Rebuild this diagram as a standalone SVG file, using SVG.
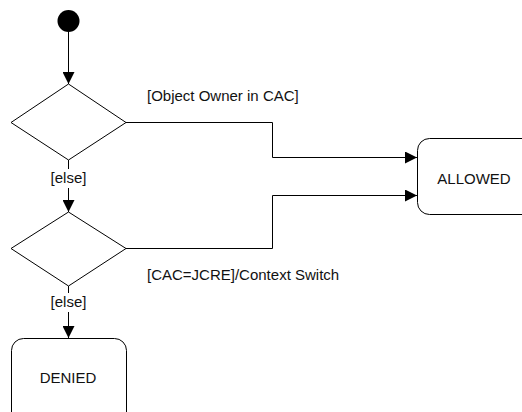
<svg xmlns="http://www.w3.org/2000/svg" width="522" height="412" viewBox="0 0 522 412">
  <style>
    .shape { fill: #ffffff; stroke: #000000; stroke-width: 1; }
    .edge { fill: none; stroke: #000000; stroke-width: 1; }
    .lbl { font-family: "Liberation Sans", Arial, sans-serif; font-size: 15px; fill: #111111; }
    .mid { text-anchor: middle; }
  </style>
  <defs>
    <marker id="arrow" viewBox="0 0 12 12" refX="12" refY="6" markerWidth="12" markerHeight="12" markerUnits="userSpaceOnUse" orient="auto">
      <path d="M0,0 L12,6 L0,12 Z" fill="#000000"/>
    </marker>
  </defs>

  <g id="connectors">
    <path class="edge" d="M68.5,32 L68.5,84" marker-end="url(#arrow)"/>
    <path class="edge" d="M68.5,160 L68.5,169"/>
    <path class="edge" d="M68.5,188 L68.5,212" marker-end="url(#arrow)"/>
    <path class="edge" d="M68.5,286 L68.5,293"/>
    <path class="edge" d="M68.5,312 L68.5,338" marker-end="url(#arrow)"/>
    <path class="edge" d="M126,122.5 L272.5,122.5 L272.5,157.5 L417,157.5" marker-end="url(#arrow)"/>
    <path class="edge" d="M126,248.5 L272.5,248.5 L272.5,195.5 L417,195.5" marker-end="url(#arrow)"/>
    <text class="lbl" x="147" y="100.5">[Object Owner in CAC]</text>
    <text class="lbl" x="147" y="279.5">[CAC=JCRE]/Context Switch</text>
    <text class="lbl mid" x="68.5" y="183">[else]</text>
    <text class="lbl mid" x="68.5" y="307">[else]</text>
  </g>

  <g id="start">
    <circle cx="68.5" cy="21" r="11" fill="#000000"/>
  </g>

  <g id="decision1">
    <polygon class="shape" points="68.5,84 126,122.5 68.5,160 11,122.5"/>
  </g>

  <g id="decision2">
    <polygon class="shape" points="68.5,212 126,248.5 68.5,286 11,248.5"/>
  </g>

  <g id="allowed">
    <rect class="shape" x="417.5" y="138.5" width="120" height="76" rx="12" ry="12"/>
    <text class="lbl mid" x="474" y="184">ALLOWED</text>
  </g>

  <g id="denied">
    <rect class="shape" x="11.5" y="338.5" width="115" height="90" rx="12" ry="12"/>
    <text class="lbl mid" x="68" y="382.5">DENIED</text>
  </g>
</svg>
